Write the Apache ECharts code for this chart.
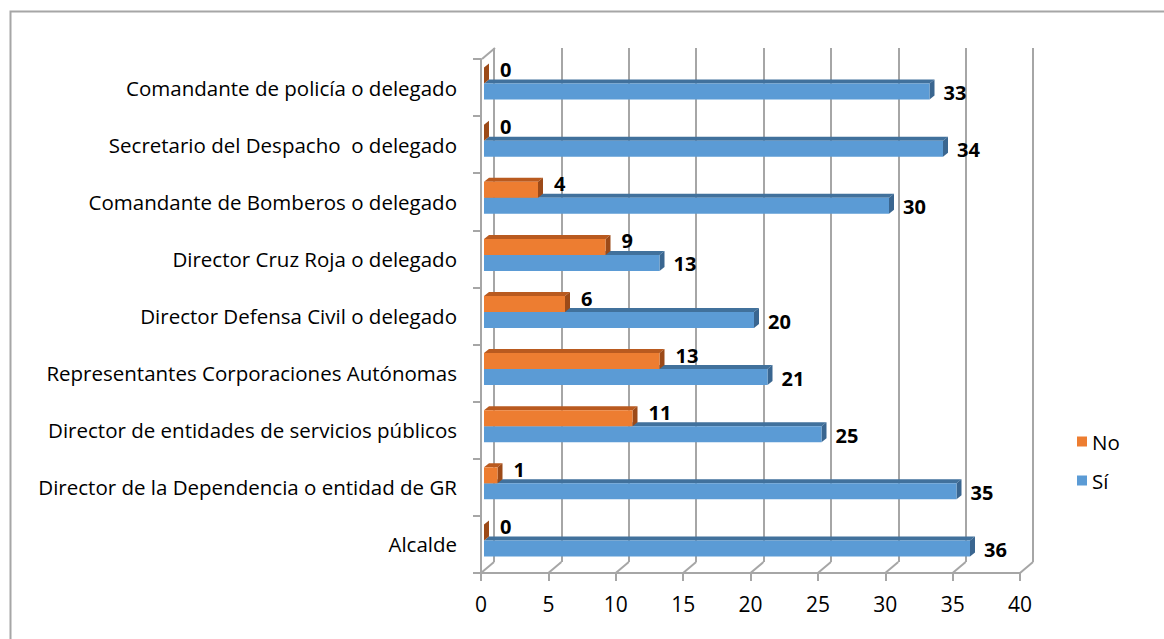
<!DOCTYPE html>
<html>
<head>
<meta charset="utf-8">
<script src="https://cdn.jsdelivr.net/npm/echarts@6/dist/echarts.min.js"></script>
<style>
  html, body { margin: 0; padding: 0; background: #fff; }
  #chart { width: 1164px; height: 639px; }
</style>
</head>
<body>
<div id="chart"></div>
<script>
// categories, bottom to top (same order as the picture)
const categories = [
  'Alcalde',
  'Director de la Dependencia o entidad de GR',
  'Director de entidades de servicios públicos',
  'Representantes Corporaciones Autónomas',
  'Director Defensa Civil o delegado',
  'Director Cruz Roja o delegado',
  'Comandante de Bomberos o delegado',
  'Secretario del Despacho  o delegado',
  'Comandante de policía o delegado'
]
const noValues = [0, 1, 11, 13, 6, 9, 4, 0, 0]
const siValues = [36, 35, 25, 21, 20, 13, 30, 34, 33]
const xTicks = [0, 5, 10, 15, 20, 25, 30, 35, 40]

const FONT = '"Open Sans", Lato, sans-serif'
const WALL = '#a6a6a6'
const DX = 13, DY = 11      // depth of the chart walls
const BX = 5, BY = 4        // depth of each bar
const BAR_H = 16

const front = { left: 481, top: 59, width: 539, height: 514 }
const back = { left: front.left + DX, top: front.top - DY, width: front.width, height: front.height }
const bars = { left: 484, top: front.top - 4, width: 540, height: front.height }

const palette = {
  No: { front: '#ED7D31', top: '#B95A1F', side: '#9C4A18' },
  'Sí': { front: '#5B9BD5', top: '#41719C', side: '#3A6690' }
}

const chart = echarts.init(document.getElementById('chart'), null, { renderer: 'svg' })

const makeBar = (name, upper) => (params, api) => {
  const val = api.value(0)
  const cat = api.value(1)
  const p0 = api.coord([0, cat])
  const p1 = api.coord([val, cat])
  const x0 = p0[0], x1 = p1[0]
  const y0 = upper ? p0[1] - BAR_H : p0[1]
  const c = palette[name]
  const children = [
    { type: 'polygon', shape: { points: [[x0, y0], [x1, y0], [x1 + BX, y0 - BY], [x0 + BX, y0 - BY]] },
      style: { fill: c.top } },
    { type: 'polygon', shape: { points: [[x1, y0], [x1 + BX, y0 - BY], [x1 + BX, y0 + BAR_H - BY], [x1, y0 + BAR_H]] },
      style: { fill: c.side } },
    { type: 'rect', shape: { x: x0, y: y0, width: x1 - x0, height: BAR_H }, style: { fill: c.front } },
    { type: 'text',
      style: {
        text: String(val),
        x: x1 + (upper ? 16 : 14),
        y: upper ? y0 + BAR_H / 2 - 6 : y0 + BAR_H / 2 + 1,
        verticalAlign: 'middle',
        align: 'left',
        font: 'bold 20px ' + FONT,
        fill: '#000'
      } }
  ]
  return { type: 'group', children }
}

const wallRender = (params, api) => {
  const v = api.value(0)
  const cs = params.coordSys
  const x = api.coord([v, 0])[0]
  const bottom = cs.y + cs.height
  const lineStyle = { stroke: WALL, lineWidth: 2 }
  const children = [
    { type: 'line', shape: { x1: x, y1: bottom, x2: x + DX, y2: bottom - DY }, style: lineStyle }
  ]
  if (v === xTicks[0]) {
    children.push({ type: 'line', shape: { x1: x + 1, y1: cs.y, x2: x + 1 + DX, y2: cs.y - DY }, style: lineStyle })
  }
  return { type: 'group', children }
}

const hiddenAxis = { show: false }

const option = {
  backgroundColor: '#fff',
  animation: false,
  textStyle: { fontFamily: FONT },
  graphic: [{
    type: 'rect', left: 8, top: 9,
    shape: { width: 1400, height: 900 },
    style: { fill: 'none', stroke: WALL, lineWidth: 2 },
    silent: true
  }],
  legend: {
    data: ['No', 'Sí'],
    orient: 'vertical',
    left: 1072,
    top: 424,
    itemGap: 14,
    itemWidth: 10,
    itemHeight: 10,
    icon: 'rect',
    textStyle: { fontSize: 20.5, color: '#000', fontFamily: FONT, lineHeight: 25 },
    selectedMode: false
  },
  grid: [
    { ...front, containLabel: false },
    { ...back, containLabel: false },
    { ...bars, containLabel: false }
  ],
  xAxis: [
    {
      gridIndex: 0, type: 'value', min: 0, max: 40, interval: 5,
      axisLine: { show: true, lineStyle: { color: WALL, width: 2 } },
      axisTick: { show: true, length: 8, lineStyle: { color: WALL, width: 2 } },
      axisLabel: { fontSize: 21, color: '#000', margin: 20, fontFamily: FONT },
      splitLine: { show: false }
    },
    {
      gridIndex: 1, type: 'value', min: 0, max: 40, interval: 5,
      axisLine: { show: false }, axisTick: { show: false }, axisLabel: { show: false },
      splitLine: { show: true, lineStyle: { color: WALL, width: 2 } }
    },
    { gridIndex: 2, type: 'value', min: 0, max: 40, ...hiddenAxis }
  ],
  yAxis: [
    {
      gridIndex: 0, type: 'category', data: categories,
      axisLine: { show: true, lineStyle: { color: WALL, width: 2 } },
      axisTick: { show: true, length: 8, lineStyle: { color: WALL, width: 2 } },
      axisLabel: { fontSize: 20.5, color: '#000', margin: 24, fontFamily: FONT },
      splitLine: { show: false }
    },
    { gridIndex: 1, type: 'value', ...hiddenAxis },
    { gridIndex: 2, type: 'category', data: categories, ...hiddenAxis }
  ],
  series: [
    {
      name: 'No', type: 'custom', xAxisIndex: 2, yAxisIndex: 2, z: 4,
      itemStyle: { color: palette.No.front },
      renderItem: makeBar('No', true),
      encode: { x: 0, y: 1 },
      data: noValues.map((v, i) => [v, i])
    },
    {
      name: 'Sí', type: 'custom', xAxisIndex: 2, yAxisIndex: 2, z: 3,
      itemStyle: { color: palette['Sí'].front },
      renderItem: makeBar('Sí', false),
      encode: { x: 0, y: 1 },
      data: siValues.map((v, i) => [v, i])
    },
    {
      name: 'walls', type: 'custom', xAxisIndex: 0, yAxisIndex: 0, z: 1, silent: true,
      renderItem: wallRender,
      encode: { x: 0 },
      data: xTicks.map(v => [v])
    }
  ]
}

chart.setOption(option)
</script>
</body>
</html>
